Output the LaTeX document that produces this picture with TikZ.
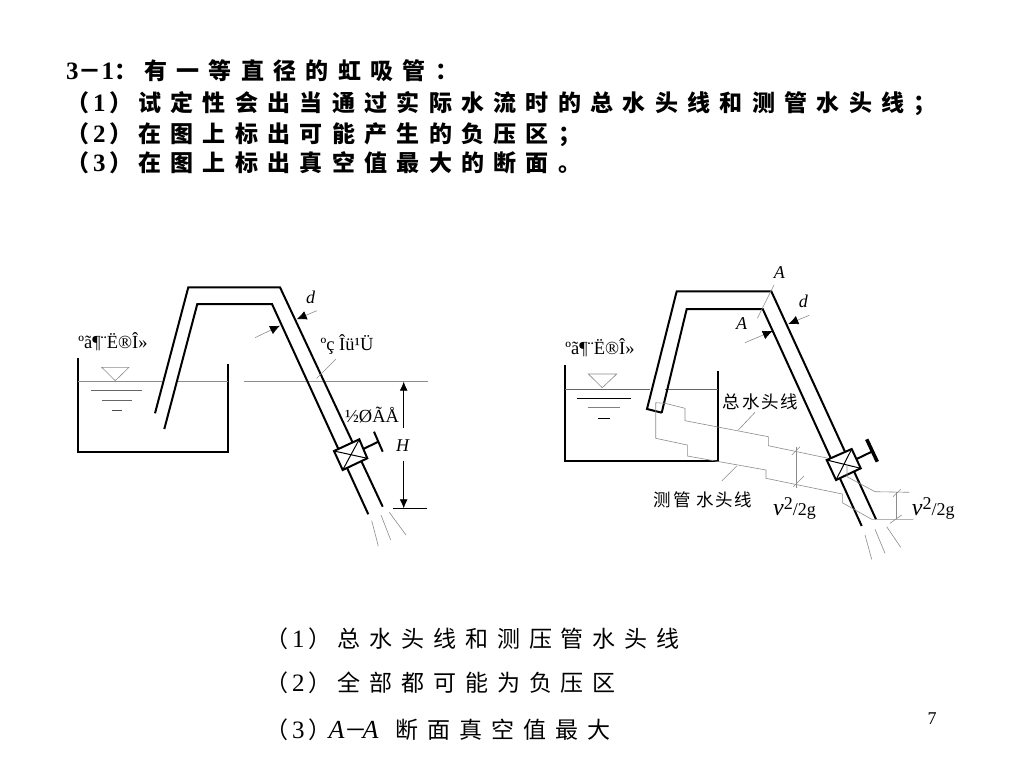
\documentclass[tikz,border=0pt]{standalone}
\usepackage{fontspec}
\setmainfont{Liberation Serif}
\newfontfamily\cjk{Noto Sans CJK SC}
\newfontfamily\cjkwide[LetterSpace=40.5]{Noto Sans CJK SC}
\newfontfamily\cjkans[LetterSpace=39]{Noto Sans CJK SC}
\newfontfamily\cjklabel[LetterSpace=10]{Noto Sans CJK SC}
\usetikzlibrary{arrows.meta}
\newcommand{\numsize}{\fontsize{25}{26}\selectfont}
\newcommand{\parnum}[1]{{\cjk （}\hspace{4pt}{\numsize #1}\hspace{4pt}{\cjk ）}}
\newcommand{\vhead}{{\fontsize{24}{26}\selectfont\itshape v}\raisebox{6pt}{\fontsize{18}{20}\selectfont 2}/2g}
\tikzset{
	wall/.style={line width=2pt, color=black},
	thin gray/.style={line width=0.6pt, color=black!45},
	dimtip/.style={thin gray, -{Latex[black, length=10pt, width=9pt]}},
	headtext/.style={anchor=base west, inner sep=0pt, font=\fontsize{23}{26}\selectfont\bfseries},
	anstext/.style={anchor=base west, inner sep=0pt, font=\fontsize{23}{26}\selectfont},
	garbled/.style={inner sep=0pt, font=\fontsize{18.5}{20}\selectfont},
	mathlabel/.style={inner sep=0pt, font=\fontsize{18}{20}\selectfont\itshape},
	vlabel/.style={anchor=base west, inner sep=0pt, font=\fontsize{18}{20}\selectfont},
	cnlabel/.style={inner sep=0pt, font=\fontsize{17.5}{20}\selectfont},
}
\begin{document}
\begin{tikzpicture}[x=1pt, y=-1pt]
			%%%%% START %%%%%
			\useasboundingbox (0, 0) rectangle (1024, 768);
			\fill[white] (0, 0) rectangle (1024, 768);
			
			\node[headtext] (qonehead) at (66, 79) {{\numsize 3}{\cjk －}{\numsize 1}{\cjk ：}};
			\node[headtext] (qone) at (144, 79) {\cjkwide 有一等直径的虹吸管：};
			\node[headtext] (qtwohead) at (66, 111) {\parnum{1}};
			\node[headtext] (qtwo) at (138, 111) {\cjkwide 试定性会出当通过实际水流时的总水头线和测管水头线；};
			\node[headtext] (qthreehead) at (66, 142) {\parnum{2}};
			\node[headtext] (qthree) at (138, 142) {\cjkwide 在图上标出可能产生的负压区；};
			\node[headtext] (qfourhead) at (66, 171) {\parnum{3}};
			\node[headtext] (qfour) at (138, 171) {\cjkwide 在图上标出真空值最大的断面。};
			
			%%% left siphon
			\draw[wall] (78.3, 358) -- (78.3, 451.7) -- (228.3, 451.7) -- (228.3, 364);
			\draw[thin gray] (78.3, 381.7) -- (161.5, 381.7);
			\draw[thin gray] (178, 381.7) -- (228.3, 381.7);
			\draw[thin gray] (244, 381.7) -- (428, 381.7);
			\draw[thin gray] (101.7, 367.3) -- (129, 367.3) -- (115.3, 380.7) -- cycle;
			\draw[line width=1pt, color=black!60] (90.7, 390.7) -- (142.3, 390.7);
			\draw[line width=1pt, color=black!60] (101.7, 400) -- (131.7, 400);
			\draw[line width=1pt, color=black!70] (111.7, 410) -- (121.7, 410);
			
			\draw[wall] (155, 413.3) -- (188.3, 287.3) -- (280, 287.3) -- (382.7, 506.7);
			\draw[wall] (164.3, 429) -- (197.3, 304) -- (272, 304) -- (368.3, 514.3);
			
			\draw[wall, fill=white] (334, 451) -- (359.3, 439.3) -- (367.3, 458.3) -- (342.7, 470) -- cycle;
			\draw[line width=1pt] (334, 451) -- (367.3, 458.3);
			\draw[line width=1pt] (359.3, 439.3) -- (342.7, 470);
			\draw[wall] (363.3, 449) -- (378.3, 441.7);
			\draw[wall] (374, 431.7) -- (382.7, 451.7);
			
			\node[garbled] (leftlevel) at (113, 342) {ºã¶¨Ë®Î»};
			\node[garbled] (leftpipe) at (347, 345) {ºç Îü¹Ü};
			\node[garbled] (leftgate) at (372, 415) {½ØÃÅ};
			\node[mathlabel] (leftd) at (310.7, 297.3) {d};
			\node[mathlabel] (leftH) at (402.7, 446) {H};
			
			\draw[thin gray] (336, 359) -- (316.7, 378.3);
			\draw[dimtip] (316.7, 310.7) -- (296.7, 319.3);
			\draw[dimtip] (255, 337.7) -- (280, 325.7);
			
			\draw[line width=0.8pt, {Latex[length=9pt, width=8pt]}-] (403.7, 381.7) -- (403.7, 428.3);
			\draw[line width=0.8pt, -{Latex[length=9pt, width=8pt]}] (403.7, 460.7) -- (403.7, 508.3);
			\draw[line width=0.8pt] (393.3, 508.3) -- (426.7, 508.3);
			
			\draw[thin gray] (389.3, 512.3) -- (406, 535);
			\draw[thin gray] (381, 515) -- (390.7, 540);
			\draw[thin gray] (371.7, 520.7) -- (378.3, 546);
			
			%%% right siphon
			\draw[wall] (565.3, 365) -- (565.3, 461.3) -- (718.3, 461.3) -- (718.3, 370.7);
			\draw[line width=0.7pt, color=black!60] (565.3, 389) -- (650, 389);
			\draw[line width=0.7pt, color=black!60] (665, 389) -- (718.3, 389);
			\draw[thin gray] (588.3, 374) -- (616.7, 374) -- (602.3, 387.7) -- cycle;
			\draw[line width=0.9pt] (576.7, 398) -- (630.7, 398);
			\draw[line width=1pt, color=black!50] (587.7, 407.7) -- (620, 407.7);
			\draw[line width=0.9pt] (598.3, 418.3) -- (610, 418.3);
			
			\draw[wall] (661.7, 412.7) -- (647, 409) -- (676.7, 291.3) -- (771.3, 291.3) -- (876, 519.3);
			\draw[wall] (661.7, 412.7) -- (686.7, 309) -- (762.7, 309) -- (861.7, 526);
			
			\draw[wall, fill=white] (826.7, 460) -- (851.7, 449) -- (860.7, 468.3) -- (836, 480) -- cycle;
			\draw[line width=1pt] (826.7, 460) -- (860.7, 468.3);
			\draw[line width=1pt] (851.7, 449) -- (836, 480);
			\draw[wall] (856, 459.3) -- (871.7, 451.7);
			\draw[line width=3.5pt] (866.7, 439.3) -- (877.3, 461.7);
			
			\draw[thin gray] (665, 403.3) -- (655.7, 402.7) -- (655.7, 438.3) -- (687.3, 445) -- (687.3, 456) -- (766, 470) -- (766, 478.3) -- (842.3, 494) -- (842.3, 502.7) -- (871.7, 519.3) -- (913.3, 519.3);
			\draw[thin gray] (665, 403.3) -- (685, 408.3) -- (685, 420.7) -- (768.3, 436.7) -- (768.3, 445.7) -- (828.3, 458.3);
			\draw[thin gray] (847, 466) -- (847, 476.7) -- (875, 491.7) -- (909.3, 492.3);
			
			\draw[thin gray] (796, 446.7) -- (796, 488.3);
			\draw[thin gray] (791.7, 455) -- (800, 446.7);
			\draw[thin gray] (793.3, 486.7) -- (804, 476);
			\draw[thin gray] (896.7, 492.3) -- (896.7, 519.3);
			\draw[thin gray] (893, 496.7) -- (900.7, 489.3);
			\draw[thin gray] (890, 523.3) -- (901.7, 515);
			\draw[thin gray] (755, 412.3) -- (738.3, 430);
			\draw[thin gray] (736.7, 466) -- (721.7, 481);
			\draw[thin gray] (774, 285) -- (757.3, 318.3);
			
			\draw[dimtip] (809.3, 315.3) -- (788.3, 324);
			\draw[dimtip] (745, 342.7) -- (772.7, 331);
			
			\draw[thin gray] (886.7, 526.7) -- (900.7, 547.3);
			\draw[thin gray] (875, 529.3) -- (885, 553.3);
			\draw[thin gray] (865, 535) -- (871.7, 559.3);
			
			\node[garbled] (rightlevel) at (600, 347.5) {ºã¶¨Ë®Î»};
			\node[mathlabel] (rightAtop) at (779.3, 272.7) {A};
			\node[mathlabel] (rightAlow) at (741.7, 324) {A};
			\node[mathlabel] (rightd) at (803.3, 301.7) {d};
			\node[cnlabel] (totalhead) at (760.5, 401.7) {\cjklabel 总水头线};
			\node[cnlabel] (pipehead) at (703, 500) {\cjklabel 测管 水头线};
			\node[vlabel] (vheadleft) at (773, 515) {\vhead};
			\node[vlabel] (vheadright) at (911.7, 515) {\vhead};
			
			%%% answers
			\node[anstext] (aone) at (265, 647) {\parnum{1}};
			\node[anstext] (aonetext) at (337, 647) {\cjkans 总水头线和测压管水头线};
			\node[anstext] (atwo) at (265, 691) {\parnum{2}};
			\node[anstext] (atwotext) at (337, 691) {\cjkans 全部都可能为负压区};
			\node[anstext] (athree) at (265, 738) {\parnum{3}\hspace{-3pt}{\fontsize{26}{26}\selectfont\itshape A}{\cjk －}\hspace{-5pt}{\fontsize{26}{26}\selectfont\itshape A}};
			\node[anstext] (athreetext) at (395, 738) {\cjkans 断面真空值最大};
			
			\node[inner sep=0pt, font=\fontsize{18}{20}\selectfont] (pagenum) at (932, 719) {7};
			%%%%% END %%%%%
		\end{tikzpicture}
\end{document}
